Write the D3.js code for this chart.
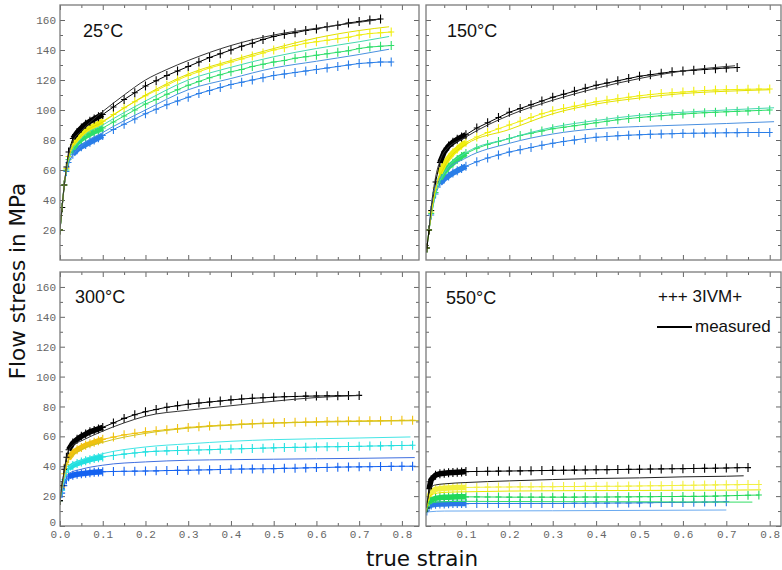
<!DOCTYPE html>
<html>
<head>
<meta charset="UTF-8">
<title>Flow stress vs true strain</title>
<script src="https://d3js.org/d3.v7.min.js"></script>
<style>
    body { margin: 0; background: #fff; }
    .tick text { font-family: "Liberation Mono", monospace; font-size: 11px; fill: #666; }
    .tick line { stroke: #666; stroke-width: 1px; }
    .frame { fill: none; stroke: #7a7a7a; stroke-width: 1.3px; }
    .lbl { font-family: "Liberation Sans", Arial, sans-serif; fill: #111; }
    .axtitle { font-family: "DejaVu Sans", sans-serif; font-size: 21.5px; fill: #111; }
</style>
</head>
<body>
<svg width="782" height="570"></svg>
<script>
// strain points of the 3IVM+ model series
const strainGrid = [0, 0.005, 0.01, 0.015, 0.02, 0.03, 0.04, 0.05, 0.06, 0.07, 0.08, 0.09, 0.1,
    0.125, 0.15, 0.175, 0.2, 0.225, 0.25, 0.275, 0.3, 0.325, 0.35, 0.375, 0.4, 0.425, 0.45, 0.475,
    0.5, 0.525, 0.55, 0.575, 0.6, 0.625, 0.65, 0.675, 0.7, 0.725, 0.75, 0.775, 0.8, 0.825];

const titles = ["25°C", "150°C", "300°C", "550°C"];
const xTicks = [0, 0.1, 0.2, 0.3, 0.4, 0.5, 0.6, 0.7, 0.8];
const xMinor = [0.05, 0.15, 0.25, 0.35, 0.45, 0.55, 0.65, 0.75];
const yTicks = [0, 20, 40, 60, 80, 100, 120, 140, 160];
const yMinor = [10, 30, 50, 70, 90, 110, 130, 150];

// 25°C
const model25Black = [20, 35, 50, 62, 72, 81, 85, 88, 90.5, 92.5, 94, 95.5, 97,
    102, 107, 111.5, 116, 119.5, 123, 126, 129, 132, 135, 137.5, 140, 142.5, 144.5, 147, 149,
    150.5, 151.5, 153, 154, 155.5, 156.5, 158, 159, 160, 160.7];
const model25Yellow = [20, 35, 50, 61, 69, 77, 81, 84, 86, 88, 89.5, 91, 92.5,
    97, 101.5, 105.5, 109.5, 113, 116.5, 120, 123, 125.5, 128, 130, 132, 134, 136, 138, 140,
    141.5, 143, 144.5, 145.5, 146.5, 147.5, 148.5, 150, 151, 151.5, 152];
const model25Green = [20, 35, 50, 60, 67, 74, 78, 80.5, 82.5, 84, 85.5, 86.5, 88,
    92, 96, 100, 104, 107, 110.5, 113.5, 116.5, 119, 121.5, 123.5, 125.5, 127, 129, 130.5, 132,
    133, 134.5, 135.5, 136.5, 137.5, 138.5, 139.5, 141, 142, 142.5, 143];
const model25Blue = [20, 35, 50, 59, 65, 70.5, 73.5, 75.5, 77, 78.5, 80, 81.5, 83,
    87, 90.5, 94, 97.5, 100.5, 103.5, 106, 108.5, 111, 113, 115, 117, 118.5, 120, 121.5, 123,
    124, 125, 126, 127, 128, 129, 130, 131, 131.5, 132, 132];
const meas25Black = [[0, 20], [0.01, 50], [0.02, 70], [0.03, 79], [0.05, 86], [0.075, 93], [0.1, 99],
    [0.15, 110], [0.2, 120], [0.25, 127], [0.3, 133], [0.4, 143], [0.5, 150], [0.6, 154.5], [0.7, 158.5], [0.74, 160]];
const meas25Yellow = [[0, 20], [0.01, 50], [0.02, 68], [0.05, 83], [0.1, 92], [0.2, 110], [0.3, 124],
    [0.4, 133], [0.5, 141], [0.6, 148], [0.7, 153], [0.77, 155.5]];
const meas25Green = [[0, 20], [0.01, 50], [0.02, 67], [0.05, 81], [0.1, 90], [0.2, 106], [0.3, 120],
    [0.4, 128.5], [0.5, 135.5], [0.6, 141], [0.7, 145.5], [0.77, 149]];
const meas25Blue = [[0, 20], [0.01, 50], [0.02, 64], [0.05, 76], [0.1, 85], [0.2, 100], [0.3, 113.5],
    [0.4, 121], [0.5, 128], [0.6, 132.5], [0.7, 137], [0.77, 140.5]];

// 150°C
const model150Black = [null, null, 8, 20, 33, 52, 65, 72, 76, 78.5, 80.5, 82, 83.5,
    88, 91.5, 95, 98.5, 101, 103.5, 106, 108.5, 110.5, 112.5, 114.5, 116.5, 118, 119.5, 121, 122.5,
    123.5, 124.5, 125.5, 126, 126.5, 127, 127.5, 128, 128.3];
const model150Yellow = [null, null, 8, 20, 32, 48, 58, 64, 68, 71.5, 74, 76.5, 78.5,
    82, 85, 87.5, 90, 92.5, 95, 97.5, 99.5, 101, 102.5, 104, 105.5, 106.5, 107.5, 108.5, 109.5,
    110.3, 111, 111.5, 112, 112.5, 113, 113.3, 113.5, 113.7, 113.8, 114, 114];
const model150Green = [null, null, 8, 20, 31, 45, 54, 58.5, 62, 64.5, 67, 69, 71,
    74.5, 77, 79, 81, 83, 84.5, 86, 87.5, 88.5, 89.5, 90.5, 91.5, 92.5, 93.5, 94.3, 95,
    95.6, 96.2, 96.8, 97.3, 97.8, 98.2, 98.5, 98.8, 99.1, 99.4, 99.7, 100];
const model150Blue = [null, null, 8, 20, 30, 44, 51, 54, 56, 58, 59.5, 61, 62.5,
    65.5, 68, 70, 72, 73.5, 75, 76.5, 77.8, 79, 80, 81, 81.8, 82.3, 82.8, 83.2, 83.5,
    83.8, 84, 84.2, 84.4, 84.5, 84.6, 84.7, 84.8, 84.9, 85, 85, 85];
const meas150Black = [[0.015, 20], [0.02, 35], [0.03, 55], [0.04, 66], [0.05, 72], [0.1, 82], [0.2, 96.5],
    [0.3, 106.5], [0.4, 114.5], [0.5, 121], [0.6, 126], [0.7, 129], [0.72, 129.5]];
const meas150Yellow = [[0.015, 20], [0.03, 47], [0.05, 62], [0.1, 77], [0.2, 87], [0.3, 97.5],
    [0.4, 104], [0.5, 108], [0.6, 111], [0.7, 112.5], [0.8, 113.5]];
const meas150Green = [[0.015, 20], [0.03, 44], [0.05, 58], [0.1, 71.5], [0.2, 81], [0.3, 88.5],
    [0.4, 93], [0.5, 96.5], [0.6, 98.5], [0.7, 100], [0.81, 101.5]];
const meas150Blue = [[0.015, 20], [0.025, 45], [0.05, 58], [0.1, 68], [0.2, 77.8], [0.3, 84],
    [0.4, 87.5], [0.5, 89], [0.6, 90], [0.7, 91], [0.81, 92.2]];

// 300°C
const model300Black = [17, 27, 38, 46, 51, 55.5, 58, 60, 61.5, 63, 64, 65, 66,
    69, 72, 74.5, 76.5, 78, 79.5, 80.5, 81.5, 82.3, 83, 83.7, 84.4, 85, 85.5, 85.8, 86.2,
    86.5, 86.7, 86.9, 87, 87.1, 87.2, 87.3, 87.4];
const model300Gold = [17, 26, 35, 41, 45, 49, 51, 52.5, 54, 55, 56, 57, 58,
    59.5, 61, 62, 63, 63.8, 64.5, 65.2, 66, 66.5, 67, 67.4, 67.8, 68.2, 68.5, 68.8, 69,
    69.2, 69.4, 69.6, 69.8, 70, 70.1, 70.2, 70.3, 70.4, 70.5, 70.6, 70.7, 70.8];
const model300Cyan = [17, 24, 31, 36, 38.5, 40.5, 41.8, 42.8, 43.6, 44.4, 45.1, 45.7, 46.2,
    47.2, 48.1, 48.9, 49.6, 50, 50.3, 50.5, 50.7, 50.9, 51.1, 51.3, 51.5, 51.7, 51.9, 52.1, 52.3,
    52.5, 52.6, 52.7, 52.9, 53, 53.1, 53.2, 53.3, 53.5, 53.6, 53.8, 53.9, 54];
const model300Blue = [17, 22, 27, 31, 33, 34, 34.6, 35, 35.3, 35.6, 35.9, 36.1, 36.3,
    36.5, 36.6, 36.7, 36.8, 36.9, 37.1, 37.2, 37.3, 37.5, 37.6, 37.8, 38, 38.1, 38.2, 38.3, 38.4,
    38.6, 38.7, 38.9, 39.1, 39.2, 39.4, 39.5, 39.6, 39.7, 39.8, 39.9, 40, 40];
const meas300Black = [[0, 17], [0.01, 37], [0.02, 50], [0.03, 54], [0.05, 57], [0.1, 63.5], [0.15, 69],
    [0.2, 73.5], [0.3, 77.5], [0.4, 80.5], [0.5, 83.5], [0.6, 86], [0.7, 87.3]];
const meas300Gold = [[0, 17], [0.01, 34], [0.02, 44], [0.05, 51], [0.1, 56], [0.2, 62], [0.3, 65.5],
    [0.4, 67.5], [0.5, 68.8], [0.6, 69.5], [0.7, 70], [0.84, 70.5]];
const meas300Cyan = [[0, 17], [0.01, 31], [0.02, 39], [0.05, 44], [0.1, 48.4], [0.2, 52.9], [0.3, 55],
    [0.4, 56.7], [0.5, 57.8], [0.6, 58.4], [0.7, 58.9], [0.82, 59.6]];
const meas300Blue = [[0, 17], [0.01, 28], [0.02, 35], [0.05, 38], [0.1, 40.7], [0.2, 42.9], [0.3, 44],
    [0.4, 44.4], [0.5, 44.7], [0.6, 45], [0.7, 45.3], [0.83, 45.8]];

// 550°C
const model550Black = [null, null, 12, 25, 31, 34, 35, 35.3, 35.6, 35.8, 36, 36.2, 36.4,
    36.5, 36.6, 36.7, 36.8, 36.9, 37, 37.1, 37.2, 37.3, 37.4, 37.5, 37.6, 37.7, 37.8, 37.9, 38,
    38.1, 38.2, 38.3, 38.4, 38.5, 38.6, 38.7, 38.8, 39, 39.1];
const model550Yellow = [null, null, 14, 20, 23, 24.5, 25, 25.3, 25.5, 25.6, 25.7, 25.8, 25.8,
    25.9, 26, 26.1, 26.1, 26.2, 26.2, 26.3, 26.3, 26.4, 26.4, 26.5, 26.5, 26.6, 26.6, 26.7, 26.8,
    26.9, 27, 27.1, 27.2, 27.3, 27.4, 27.5, 27.6, 27.7, 27.8, 27.8];
const model550Green = [null, null, 12, 16, 17.5, 18.5, 19, 19.2, 19.3, 19.4, 19.5, 19.5, 19.5,
    19.5, 19.4, 19.4, 19.3, 19.3, 19.3, 19.3, 19.3, 19.3, 19.3, 19.4, 19.4, 19.4, 19.5, 19.5, 19.6,
    19.6, 19.7, 19.7, 19.8, 19.8, 19.9, 20, 20.2, 20.4, 20.6, 20.7];
const model550Blue = [null, null, 10, 13, 14, 14.5, 14.7, 14.8, 14.9, 15, 15, 15, 15,
    15.1, 15.1, 15.1, 15.1, 15.1, 15.1, 15.1, 15.1, 15.1, 15.2, 15.2, 15.3, 15.3, 15.4, 15.4, 15.5,
    15.6, 15.7, 15.8, 15.8, 15.9, 16, 16.1, 16.2];
const meas550Black = [[0.008, 12], [0.015, 22], [0.02, 26], [0.03, 27.5], [0.05, 28.2], [0.1, 29.1],
    [0.2, 30.2], [0.3, 31.1], [0.4, 31.8], [0.5, 32.2], [0.6, 32.9], [0.7, 33.3], [0.74, 33.6]];
const meas550Yellow = [[0.008, 10], [0.015, 18], [0.02, 21], [0.05, 22.5], [0.1, 22.9], [0.3, 23.6],
    [0.5, 23.8], [0.7, 24], [0.78, 24.2]];
const meas550Green = [[0.008, 9], [0.015, 14], [0.03, 16], [0.1, 16.5], [0.3, 16.3], [0.5, 16.2],
    [0.7, 16], [0.76, 16]];
const meas550Blue = [[0.008, 8], [0.015, 9.5], [0.05, 10], [0.3, 10.2], [0.7, 10.7]];

// colours: black, yellow, green/cyan, blue
const markColors = ["#000000", "#f0ee10", "#2ede6a", "#2a7ee8"];
const lineColors = ["#333333", "#e2e000", "#44d8b0", "#4a90e0"];
const markColors300 = ["#000000", "#f0c210", "#22e0e0", "#1462f0"];
const lineColors300 = ["#333333", "#d0c420", "#44e6e6", "#3f6fe0"];
const markColors550 = ["#000000", "#f2f040", "#22d85a", "#2a78e8"];
const lineColors550 = ["#222222", "#e6e600", "#33dd66", "#6aaaf0"];

const panels = [
    { title: titles[0], left: 60, right: 419, top: 5, bottom: 260, xDomain: [0, 0.84],
      model: [model25Black, model25Yellow, model25Green, model25Blue],
      measured: [meas25Black, meas25Yellow, meas25Green, meas25Blue],
      marks: markColors, lines: lineColors, bandFrom: 0.03, yLabels: true, xLabels: false, tx: 83, ty: 37 },
    { title: titles[1], left: 426, right: 781, top: 5, bottom: 260, xDomain: [0.008, 0.826],
      model: [model150Black, model150Yellow, model150Green, model150Blue],
      measured: [meas150Black, meas150Yellow, meas150Green, meas150Blue],
      marks: markColors, lines: lineColors, bandFrom: 0.04, yLabels: false, xLabels: false, tx: 447, ty: 37 },
    { title: titles[2], left: 60, right: 419, top: 272, bottom: 526, xDomain: [0, 0.84],
      model: [model300Black, model300Gold, model300Cyan, model300Blue],
      measured: [meas300Black, meas300Gold, meas300Cyan, meas300Blue],
      marks: markColors300, lines: lineColors300, bandFrom: 0.02, yLabels: true, xLabels: true, tx: 75, ty: 303 },
    { title: titles[3], left: 426, right: 781, top: 272, bottom: 526, xDomain: [0.008, 0.826],
      model: [model550Black, model550Yellow, model550Green, model550Blue],
      measured: [meas550Black, meas550Yellow, meas550Green, meas550Blue],
      marks: markColors550, lines: lineColors550, bandFrom: 0.015, yLabels: false, xLabels: true, tx: 446, ty: 304 }
];

const svg = d3.select("svg");

panels.forEach((p, k) => {
    const x = d3.scaleLinear().domain(p.xDomain).range([p.left, p.right]);
    const y = d3.scaleLinear().domain([0, 170]).range([p.bottom, p.top]);
    const inX = v => v >= p.xDomain[0] && v <= p.xDomain[1];

    svg.append("clipPath").attr("id", "clip" + k)
        .append("rect")
        .attr("x", p.left).attr("y", p.top)
        .attr("width", p.right - p.left).attr("height", p.bottom - p.top);

    const g = svg.append("g");

    // ticks inside the frame on all four sides
    function addAxis(axis, vals, size, fmt, tr) {
        axis.tickValues(vals).tickSize(-size).tickPadding(4);
        axis.tickFormat(fmt || "");
        return g.append("g").attr("transform", tr).call(axis)
            .call(s => s.select(".domain").remove());
    }
    const xv = xTicks.filter(inX), xm = xMinor.filter(inX);
    addAxis(d3.axisBottom(x), xv, 5, p.xLabels ? d3.format(".1f") : null, `translate(0,${p.bottom})`);
    addAxis(d3.axisBottom(x), xm, 3, null, `translate(0,${p.bottom})`);
    addAxis(d3.axisTop(x), xv, 5, null, `translate(0,${p.top})`);
    addAxis(d3.axisTop(x), xm, 3, null, `translate(0,${p.top})`);
    const yv = p.xLabels ? yTicks : yTicks.slice(1);
    const yAx = addAxis(d3.axisLeft(y), yv, 5, p.yLabels ? d3.format("d") : null, `translate(${p.left},0)`);
    // the "0" label sits a little higher, just above "0.0"
    yAx.selectAll(".tick").filter(d => d === 0).select("text").attr("dy", "-0.05em");
    addAxis(d3.axisLeft(y), yMinor, 3, null, `translate(${p.left},0)`);
    addAxis(d3.axisRight(y), yv, 5, null, `translate(${p.right},0)`);
    addAxis(d3.axisRight(y), yMinor, 3, null, `translate(${p.right},0)`);

    const plot = g.append("g").attr("clip-path", `url(#clip${k})`);
    const line = d3.line().x(d => x(d[0])).y(d => y(d[1]));
    const smooth = d3.line().curve(d3.curveMonotoneX).x(d => x(d[0])).y(d => y(d[1]));

    // 3IVM+ series: line, dense band up to 0.1 and "+" markers
    for (let i = 3; i >= 0; i--) {
        const pts = p.model[i].map((v, j) => [strainGrid[j], v]).filter(d => d[1] !== null);
        const c = p.marks[i];
        plot.append("path").datum(pts).attr("d", line)
            .attr("fill", "none").attr("stroke", c).attr("stroke-width", 1);
        plot.append("path").datum(pts.filter(d => d[0] >= p.bandFrom && d[0] <= 0.1)).attr("d", line)
            .attr("fill", "none").attr("stroke", c).attr("stroke-width", 5.5);
        plot.append("g").selectAll("path").data(pts).join("path")
            .attr("transform", d => `translate(${x(d[0])},${y(d[1])})`)
            .attr("d", "M-3,0H3M0,-4.5V4.5")
            .attr("fill", "none").attr("stroke", c).attr("stroke-width", 1.1);
    }

    // measured curves
    for (let i = 3; i >= 0; i--) {
        plot.append("path").datum(p.measured[i]).attr("d", smooth)
            .attr("fill", "none").attr("stroke", p.lines[i]).attr("stroke-width", 1);
    }

    g.append("rect").attr("class", "frame")
        .attr("x", p.left).attr("y", p.top)
        .attr("width", p.right - p.left).attr("height", p.bottom - p.top);

    g.append("text").attr("class", "lbl").attr("x", p.tx).attr("y", p.ty)
        .attr("font-size", 18).text(p.title);
});

// legend
svg.append("text").attr("class", "lbl").attr("x", 658).attr("y", 302)
    .attr("font-size", 17).text("+++ 3IVM+");
svg.append("line").attr("x1", 657).attr("x2", 692).attr("y1", 327).attr("y2", 327)
    .attr("stroke", "#000").attr("stroke-width", 2);
svg.append("text").attr("class", "lbl").attr("x", 695).attr("y", 332)
    .attr("font-size", 17).text("measured");

// axis titles
svg.append("text").attr("class", "axtitle")
    .attr("transform", "translate(25,281) rotate(-90)")
    .attr("text-anchor", "middle").text("Flow stress in MPa");
svg.append("text").attr("class", "axtitle")
    .attr("x", 422).attr("y", 566)
    .attr("text-anchor", "middle").text("true strain");
</script>
</body>
</html>
